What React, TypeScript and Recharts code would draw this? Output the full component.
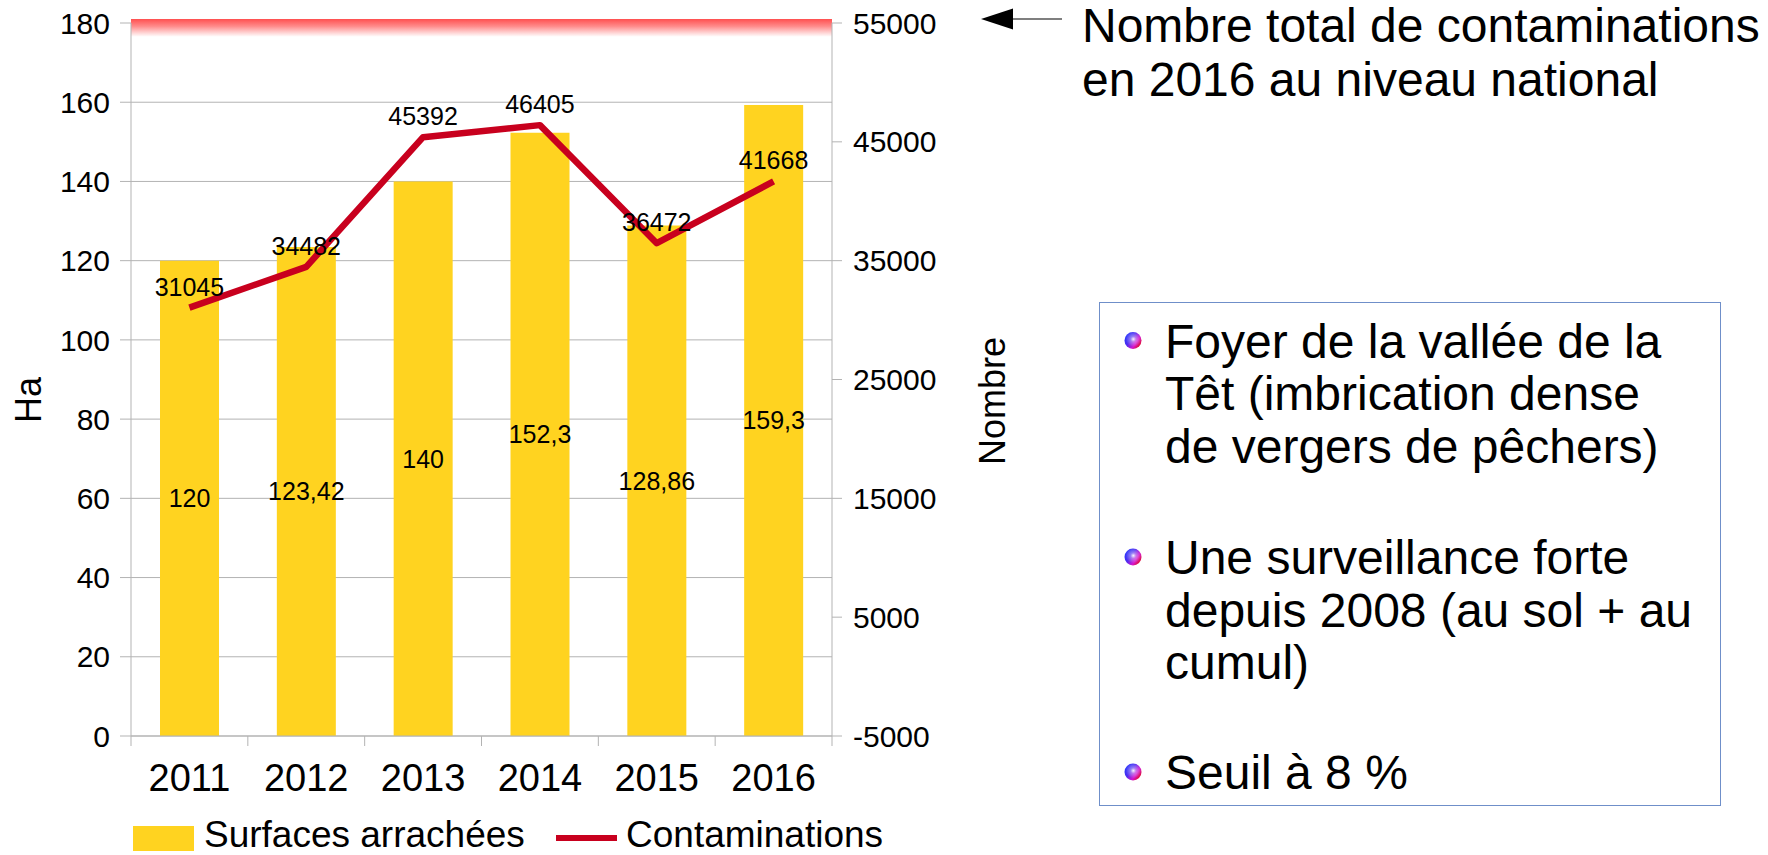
import React from 'react';
import {
  ComposedChart,
  Bar,
  Line,
  XAxis,
  YAxis,
  CartesianGrid,
  LabelList,
  ReferenceArea,
} from 'recharts';

const categories = ['2011', '2012', '2013', '2014', '2015', '2016'];
const surfaces = [120, 123.42, 140, 152.3, 128.86, 159.3];
const contaminations = [31045, 34482, 45392, 46405, 36472, 41668];
const leftTicks = [0, 20, 40, 60, 80, 100, 120, 140, 160, 180];
const rightTicks = [-5000, 5000, 15000, 25000, 35000, 45000, 55000];
const seriesNames = ['Surfaces arrachées', 'Contaminations'];
const axisTitles = ['Ha', 'Nombre'];
const noteLines = ['Nombre total de contaminations', 'en 2016 au niveau national'];
const bulletBlocks = [
  ['Foyer de la vallée de la', 'Têt (imbrication dense', 'de vergers de pêchers)'],
  ['Une surveillance forte', 'depuis 2008 (au sol + au', 'cumul)'],
  ['Seuil à 8 %'],
];

const data = categories.map((c, i) => ({
  year: c,
  surfaces: surfaces[i],
  contaminations: contaminations[i],
}));

const FONT = '"Liberation Sans", Arial, sans-serif';
const YELLOW = '#FFD320';
const RED = '#C8001E';
const GRID = '#b3b3b3';

const CHART_W = 1000;
const CHART_H = 855;
const MARGIN = { top: 23, right: 18, bottom: 59, left: 0 };
const LEFT_W = 131;
const RIGHT_W = 150;
const PLOT_LEFT = MARGIN.left + LEFT_W;
const PLOT_RIGHT = CHART_W - MARGIN.right - RIGHT_W;
const PLOT_BOTTOM = CHART_H - MARGIN.bottom - 60;
const BAND = (PLOT_RIGHT - PLOT_LEFT) / categories.length;

const fmtComma = (v: any) => String(v).replace('.', ',');

const XTick = (props: any) => {
  const { x, payload, index } = props;
  const idx = index ?? payload?.index ?? 0;
  return (
    <g>
      <line x1={x - BAND / 2} y1={PLOT_BOTTOM} x2={x - BAND / 2} y2={PLOT_BOTTOM + 10} stroke={GRID} strokeWidth={1} />
      {idx === categories.length - 1 && (
        <line x1={x + BAND / 2} y1={PLOT_BOTTOM} x2={x + BAND / 2} y2={PLOT_BOTTOM + 10} stroke={GRID} strokeWidth={1} />
      )}
      <text x={x} y={PLOT_BOTTOM + 55} textAnchor="middle" fontSize={38} fontFamily={FONT} fill="#000">
        {payload.value}
      </text>
    </g>
  );
};

const Bullet = ({ cx, cy }: { cx: number; cy: number }) => (
  <g>
    <circle cx={cx} cy={cy} r={8.5} fill="url(#bulletBase)" />
    <circle cx={cx} cy={cy} r={8.5} fill="url(#bulletHi)" />
  </g>
);

export default function App() {
  const lineH = 52.5;
  const blockStarts = [357.5, 574, 789];
  return (
    <div style={{ position: 'absolute', left: 0, top: 0, width: 1768, height: 855, background: '#fff', fontFamily: FONT }}>
      <div style={{ position: 'absolute', left: 0, top: 0 }}>
        <ComposedChart width={CHART_W} height={CHART_H} data={data} margin={MARGIN}>
          <defs>
            <linearGradient id="redBand" x1="0" y1="0" x2="0" y2="1">
              <stop offset="0%" stopColor="#ff5050" />
              <stop offset="40%" stopColor="#ff8a8a" />
              <stop offset="75%" stopColor="#ffd0d0" />
              <stop offset="100%" stopColor="#ffffff" />
            </linearGradient>
          </defs>
          <CartesianGrid yAxisId="left" vertical={false} stroke={GRID} strokeWidth={1} />
          <XAxis
            dataKey="year"
            xAxisId={0}
            height={60}
            axisLine={{ stroke: GRID }}
            tickLine={false}
            tick={<XTick />}
            interval={0}
          />
          <YAxis
            yAxisId="left"
            width={LEFT_W}
            domain={[0, 180]}
            ticks={leftTicks}
            interval={0}
            axisLine={{ stroke: GRID }}
            tickLine={{ stroke: GRID }}
            tickSize={11}
            tickMargin={10}
            tick={{ fontSize: 30, fill: '#000', fontFamily: FONT }}
          />
          <YAxis
            yAxisId="right"
            orientation="right"
            width={RIGHT_W}
            domain={[-5000, 55000]}
            ticks={rightTicks}
            interval={0}
            axisLine={{ stroke: GRID }}
            tickLine={{ stroke: GRID }}
            tickSize={10}
            tickMargin={11}
            tick={{ fontSize: 30, fill: '#000', fontFamily: FONT }}
          />
          <ReferenceArea
            yAxisId="left"
            y1={176.5}
            y2={181}
            fill="url(#redBand)"
            fillOpacity={1}
            stroke="none"
            ifOverflow="visible"
          />
          <Bar
            yAxisId="left"
            dataKey="surfaces"
            name={seriesNames[0]}
            fill={YELLOW}
            barSize={59}
            isAnimationActive={false}
          >
            <LabelList
              dataKey="surfaces"
              position="center"
              formatter={fmtComma}
              style={{ fontSize: 25, fill: '#000', fontFamily: FONT }}
            />
          </Bar>
          <Line
            yAxisId="right"
            dataKey="contaminations"
            name={seriesNames[1]}
            stroke={RED}
            strokeWidth={6.5}
            strokeLinejoin="round"
            dot={false}
            activeDot={false}
            isAnimationActive={false}
          >
            <LabelList
              dataKey="contaminations"
              position="top"
              offset={12}
              style={{ fontSize: 25, fill: '#000', fontFamily: FONT }}
            />
          </Line>
        </ComposedChart>
      </div>
      <svg width={1768} height={855} style={{ position: 'absolute', left: 0, top: 0, pointerEvents: 'none' }}>
        <defs>
          <linearGradient id="bulletBase" x1="0" y1="0" x2="1" y2="0.7">
            <stop offset="0%" stopColor="#1f3cff" />
            <stop offset="45%" stopColor="#4b2cf0" />
            <stop offset="75%" stopColor="#d416d0" />
            <stop offset="100%" stopColor="#e0102a" />
          </linearGradient>
          <radialGradient id="bulletHi" cx="52%" cy="42%" r="45%">
            <stop offset="0%" stopColor="#ffffff" stopOpacity={0.95} />
            <stop offset="35%" stopColor="#ffffff" stopOpacity={0.4} />
            <stop offset="100%" stopColor="#ffffff" stopOpacity={0} />
          </radialGradient>
        </defs>
        {/* axis titles */}
        <text x={28} y={400} transform="rotate(-90 28 400)" textAnchor="middle" dominantBaseline="central" fontSize={36} fontFamily={FONT} fill="#000">
          {axisTitles[0]}
        </text>
        <text x={992} y={401} transform="rotate(-90 992 401)" textAnchor="middle" dominantBaseline="central" fontSize={36} fontFamily={FONT} fill="#000">
          {axisTitles[1]}
        </text>
        {/* legend */}
        <rect x={133} y={826} width={61} height={25} fill={YELLOW} />
        <text x={204} y={847} fontSize={37} fontFamily={FONT} fill="#000">{seriesNames[0]}</text>
        <line x1={556} y1={838} x2={617} y2={838} stroke={RED} strokeWidth={6} />
        <text x={626} y={847} fontSize={37} fontFamily={FONT} fill="#000">{seriesNames[1]}</text>
        {/* arrow note */}
        <line x1={1010} y1={19} x2={1062} y2={19} stroke="#555" strokeWidth={1.5} />
        <polygon points="981,19 1013,8.5 1013,29.5" fill="#000" />
        {noteLines.map((t, i) => (
          <text key={i} x={1082} y={42 + i * 54} fontSize={48} fontFamily={FONT} fill="#000">{t}</text>
        ))}
        {/* bullet box */}
        <rect x={1099.5} y={302.5} width={621} height={503} fill="none" stroke="#6f8fc9" strokeWidth={1} />
        {bulletBlocks.map((lines, b) => (
          <g key={b}>
            <Bullet cx={1133} cy={blockStarts[b] - 17} />
            {lines.map((t, i) => (
              <text key={i} x={1165} y={blockStarts[b] + i * lineH} fontSize={48} fontFamily={FONT} fill="#000">{t}</text>
            ))}
          </g>
        ))}
      </svg>
    </div>
  );
}
